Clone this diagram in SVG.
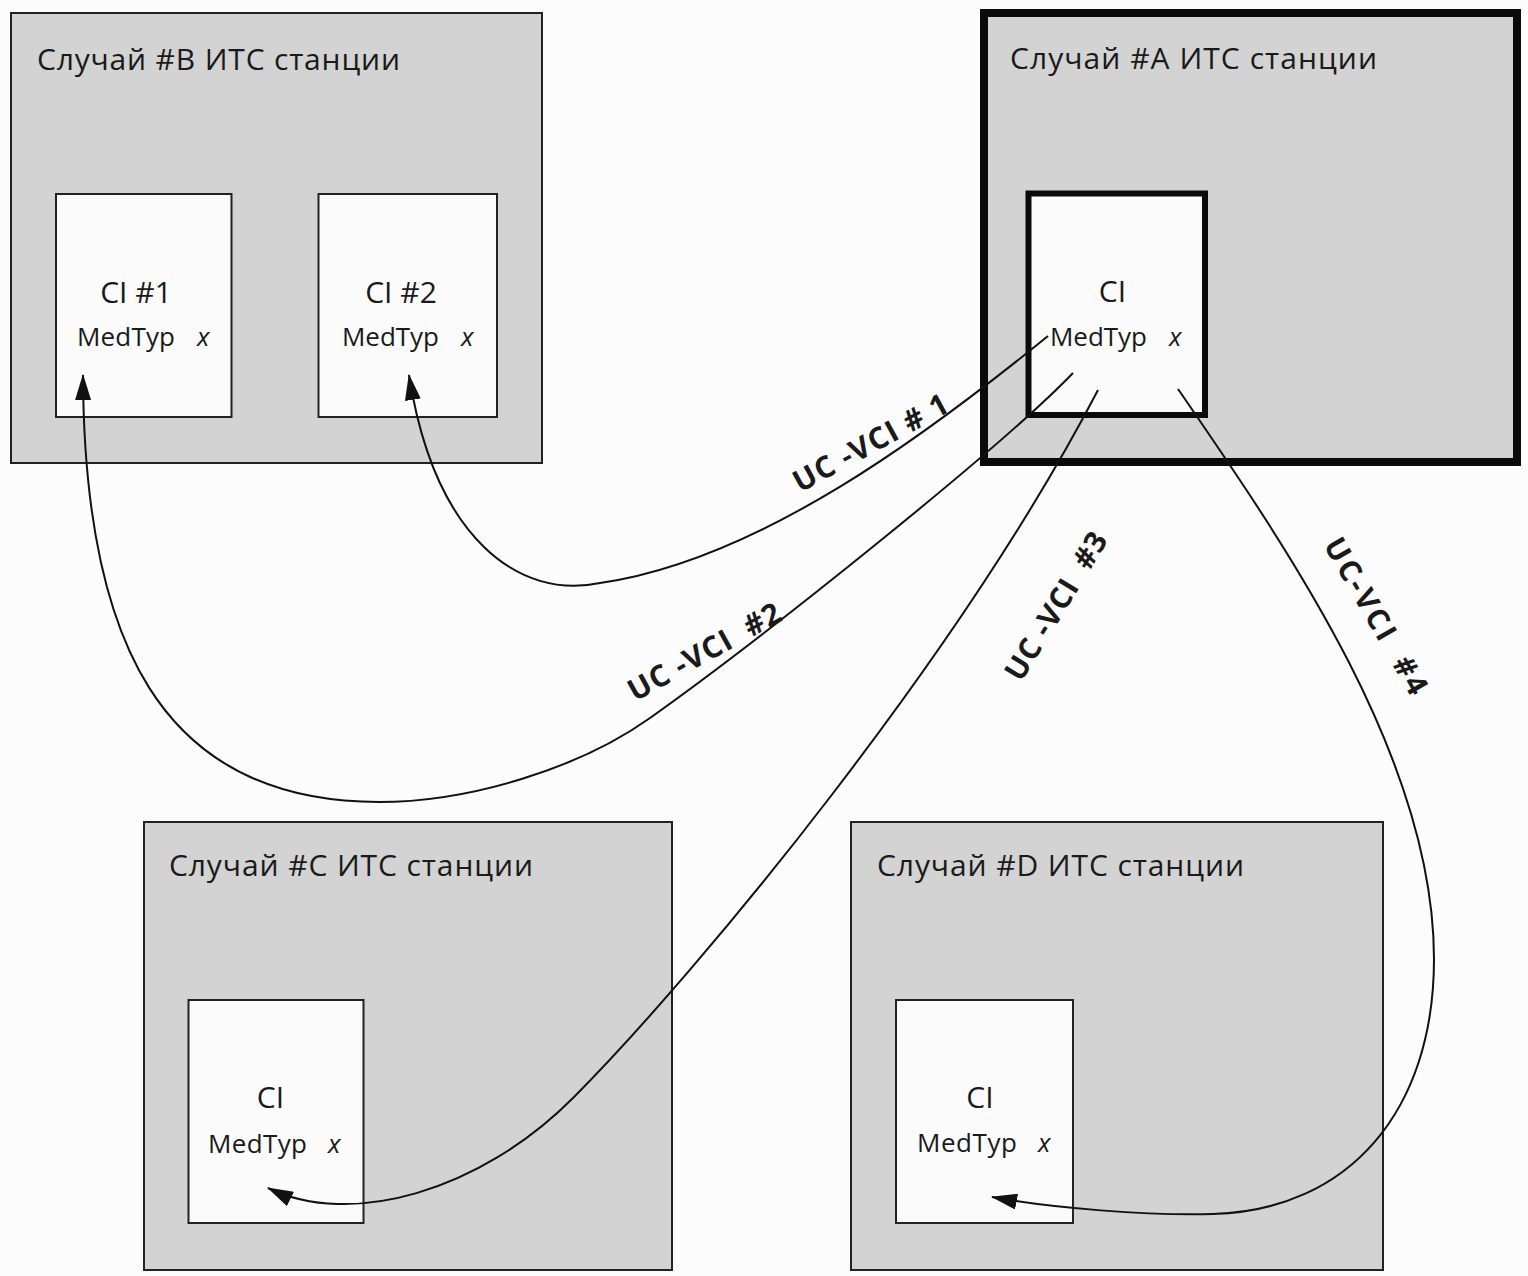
<svg xmlns="http://www.w3.org/2000/svg" width="1528" height="1276" viewBox="0 0 1528 1276">
<style>
.outer{fill:#d3d3d3;stroke:#222;stroke-width:2}
.outerA{fill:#d3d3d3;stroke:#0a0a0a;stroke-width:8}
.inner{fill:#fbfbfb;stroke:#222;stroke-width:2}
.innerA{fill:#fbfbfb;stroke:#0a0a0a;stroke-width:6}
text{font-family:"Open Sans","Noto Sans","DejaVu Sans",sans-serif;fill:#1a1a1a}
.title{font-size:30px}
.ci{font-size:30px;text-anchor:middle}
.med{font-size:26px}
.x{font-size:26px;font-style:italic}
.conn{fill:none;stroke:#111;stroke-width:2}
.lbl{font-size:30px;font-weight:bold}
</style>
<defs>
<marker id="arr" markerUnits="userSpaceOnUse" markerWidth="26" markerHeight="16" viewBox="0 0 26 16" refX="25" refY="8" orient="auto">
<path d="M0,0 L26,8 L0,16 z" fill="#111"/>
</marker>
</defs>
<rect x="0" y="0" width="1528" height="1276" fill="#fcfcfc"/>

<g id="station-b">
<rect class="outer" x="11" y="13" width="531" height="450"/>
<text class="title" x="37" y="70" textLength="363">Случай #B ИТС станции</text>
</g>
<g id="ci-b1">
<rect class="inner" x="56" y="194" width="175.5" height="223"/>
<text class="ci" x="136" y="303">CI #1</text>
<text class="med" x="77" y="346" textLength="98">MedTyp</text>
<text class="x" x="197" y="346">x</text>
</g>
<g id="ci-b2">
<rect class="inner" x="318.5" y="194" width="178.5" height="223"/>
<text class="ci" x="401" y="303">CI #2</text>
<text class="med" x="342" y="346" textLength="97">MedTyp</text>
<text class="x" x="461" y="346">x</text>
</g>

<g id="station-a">
<rect class="outerA" x="984" y="13" width="533" height="449"/>
<text class="title" x="1010" y="69" textLength="367">Случай #A ИТС станции</text>
</g>
<g id="ci-a">
<rect class="innerA" x="1028.5" y="193.5" width="176.5" height="221.5"/>
<text class="ci" x="1112.5" y="302">CI</text>
<text class="med" x="1050" y="346" textLength="97">MedTyp</text>
<text class="x" x="1169" y="346">x</text>
</g>

<g id="station-c">
<rect class="outer" x="144" y="822" width="528" height="448"/>
<text class="title" x="169" y="876" textLength="364">Случай #C ИТС станции</text>
</g>
<g id="ci-c">
<rect class="inner" x="188.5" y="1000" width="175" height="223"/>
<text class="ci" x="270.5" y="1108">CI</text>
<text class="med" x="208" y="1153" textLength="99">MedTyp</text>
<text class="x" x="328" y="1153">x</text>
</g>

<g id="station-d">
<rect class="outer" x="851" y="822" width="532" height="448"/>
<text class="title" x="877" y="876" textLength="367">Случай #D ИТС станции</text>
</g>
<g id="ci-d">
<rect class="inner" x="896" y="1000" width="177" height="223"/>
<text class="ci" x="980" y="1108">CI</text>
<text class="med" x="917" y="1152" textLength="100">MedTyp</text>
<text class="x" x="1038" y="1152">x</text>
</g>

<g id="connectors">
<path class="conn" marker-end="url(#arr)" d="M1048,336 C930,432 760,560 600,583 C520,600 435,540 409,375"/>
<path class="conn" marker-end="url(#arr)" d="M1073,373 C1000,449 760,640 650,718 C580,768 470,802 379,802 C160,802 84,640 83,375"/>
<path class="conn" marker-end="url(#arr)" d="M1098,390 C960,655 700,970 574,1097 C480,1192 350,1228 268,1188"/>
<path class="conn" marker-end="url(#arr)" d="M1178,389 C1290,552 1434,760 1434,959 C1434,1110 1350,1210 1213,1214 C1150,1216 1050,1208 992,1197"/>
<text class="lbl" xml:space="preserve" transform="translate(800,493) rotate(-28.5)" textLength="172">UC -VCI # 1</text>
<text class="lbl" xml:space="preserve" transform="translate(635,702) rotate(-29)" textLength="170">UC -VCI  #2</text>
<text class="lbl" xml:space="preserve" transform="translate(1021,683) rotate(-58.5)" textLength="168">UC -VCI  #3</text>
<text class="lbl" xml:space="preserve" transform="translate(1323,545) rotate(60)" textLength="176">UC-VCI  #4</text>
</g>
</svg>
